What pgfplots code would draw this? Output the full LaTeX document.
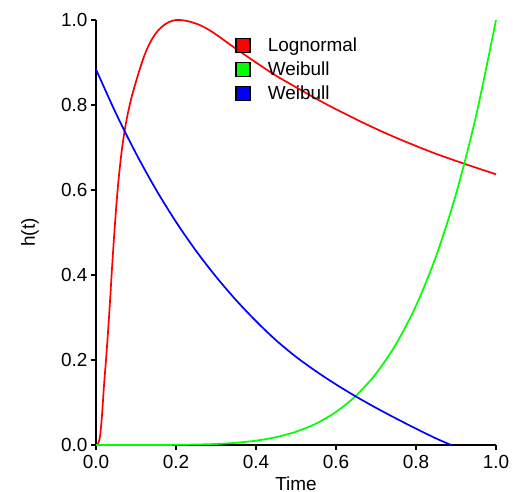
\documentclass[border=0pt]{standalone}
\usepackage{pgfplots}
\pgfplotsset{compat=1.18}
\usepackage{fontspec}
\setmainfont{Liberation Sans}
\definecolor{cR}{RGB}{255,0,0}
\definecolor{cG}{RGB}{0,255,0}
\definecolor{cB}{RGB}{0,0,255}
\begin{document}
\begin{tikzpicture}
\path[use as bounding box] (-96bp,-47bp) rectangle (417bp,445bp);
\begin{axis}[
  scale only axis,
  width=400bp, height=425bp,
  xmin=0, xmax=1, ymin=0, ymax=1,
  axis x line=bottom, axis y line=left,
  axis line style={-, line width=1.8bp, black},
  tick align=outside,
  major tick length=5bp,
  tick style={line width=1.5bp, black},
  xtick={0,0.2,0.4,0.6,0.8,1.0},
  ytick={0,0.2,0.4,0.6,0.8,1.0},
  /pgf/number format/.cd, fixed, fixed zerofill, precision=1, assume math mode=true,
  /pgfplots/.cd,
  tick label style={font=\fontsize{19}{22}\selectfont},
  xticklabel style={yshift=-2bp},
  label style={font=\fontsize{19}{22}\selectfont},
  xlabel={Time}, ylabel={h(t)},
  xlabel style={at={(axis description cs:0.5,-0.09)}, anchor=center},
  ylabel style={at={(axis description cs:-0.165,0.5)}, anchor=center},
  clip=false,
  legend style={at={(axis description cs:0.3475,0.963)}, anchor=north west,
    draw=none, fill=none, inner sep=0pt, outer sep=0pt,
    font=\fontsize{19}{22}\selectfont, row sep=5bp,
    nodes={inner sep=2bp}},
  legend cell align=left,
]
\addplot[cR, line width=1.7bp, smooth, legend image code/.code={\draw[black, line width=1.5bp, fill=cR] (0bp,-7bp) rectangle (14bp,7bp); \path[draw=none] (0bp,0bp) -- (30bp,0bp);}] coordinates {
(0,0) (0.005,0.003) (0.01,0.02) (0.015,0.07) (0.02,0.14) (0.025,0.2) (0.03,0.265) (0.035,0.338)
(0.04,0.415) (0.045,0.488) (0.05,0.553) (0.055,0.61) (0.06,0.657) (0.065,0.697) (0.07,0.73)
(0.075,0.758) (0.08,0.782) (0.085,0.803) (0.09,0.822) (0.095,0.839) (0.1,0.855) (0.11,0.886) (0.12,0.914) (0.13,0.937)
(0.14,0.955) (0.15,0.969) (0.16,0.98) (0.17,0.988) (0.18,0.994) (0.19,0.998) (0.2,1.0)
(0.21,1.0) (0.22,0.999) (0.235,0.996) (0.26,0.988) (0.28,0.978) (0.3,0.966) (0.343,0.937)
(0.4,0.9) (0.45,0.869) (0.509,0.837) (0.55,0.815) (0.6,0.79) (0.675,0.755) (0.75,0.723)
(0.842,0.688) (0.92,0.662) (1.0,0.637)
};
\addlegendentry{Lognormal}
\addplot[cG, line width=1.7bp, smooth, legend image code/.code={\draw[black, line width=1.5bp, fill=cG] (0bp,-7bp) rectangle (14bp,7bp); \path[draw=none] (0bp,0bp) -- (30bp,0bp);}] coordinates {
(0,0) (0.1,0.00001) (0.2,0.00032) (0.3,0.00243) (0.35,0.00525) (0.4,0.01024) (0.45,0.01845)
(0.5,0.03125) (0.55,0.0503) (0.6,0.07776) (0.65,0.1160) (0.7,0.16807) (0.75,0.2373)
(0.8,0.32768) (0.85,0.4437) (0.9,0.59049) (0.95,0.7738) (1.0,1.0)
};
\addlegendentry{Weibull}
\addplot[cB, line width=1.7bp, smooth, legend image code/.code={\draw[black, line width=1.5bp, fill=cB] (0bp,-7bp) rectangle (14bp,7bp); \path[draw=none] (0bp,0bp) -- (30bp,0bp);}] coordinates {
(0,0.884) (0.05,0.780) (0.1,0.686) (0.15,0.601) (0.2,0.525) (0.25,0.457) (0.3,0.396)
(0.35,0.341) (0.4,0.2915) (0.45,0.2465) (0.5,0.2075) (0.55,0.1735) (0.6,0.1425) (0.65,0.114)
(0.7,0.0875) (0.75,0.0625) (0.8,0.0385) (0.85,0.0155) (0.888,0)
};
\addlegendentry{Weibull}
\end{axis}
\end{tikzpicture}
\end{document}
